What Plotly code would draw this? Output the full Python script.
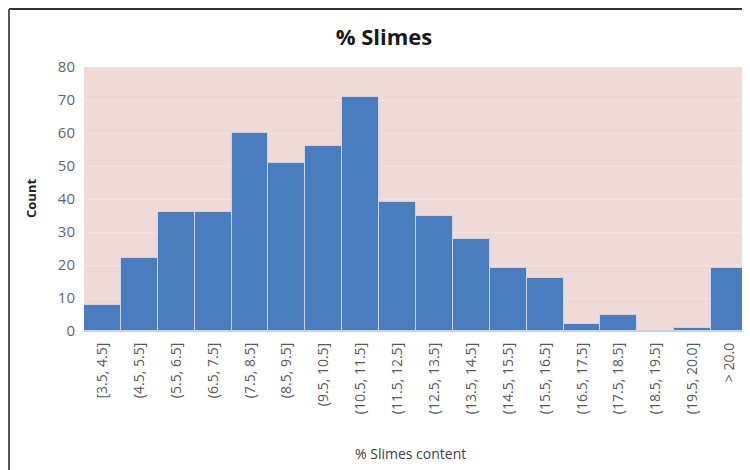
import plotly.graph_objects as go

# Histogram bins and counts
bins = ['[3.5, 4.5]', '(4.5, 5.5]', '(5.5, 6.5]', '(6.5, 7.5]', '(7.5, 8.5]',
        '(8.5, 9.5]', '(9.5, 10.5]', '(10.5, 11.5]', '(11.5, 12.5]', '(12.5, 13.5]',
        '(13.5, 14.5]', '(14.5, 15.5]', '(15.5, 16.5]', '(16.5, 17.5]', '(17.5, 18.5]',
        '(18.5, 19.5]', '(19.5, 20.0]', '> 20.0']
counts = [8, 22, 36, 36, 60, 51, 56, 71, 39, 35, 28, 19, 16, 2, 5, 0, 1, 19]
y_ticks = [0, 10, 20, 30, 40, 50, 60, 70, 80]

font_family = "Open Sans, Liberation Sans, sans-serif"

# page body has an 8px margin, so the figure is a little smaller than the window
W, H = 742, 462
L, R, T, B = 76, 2, 59, 139
plot_w = W - L - R
plot_h = H - T - B

fig = go.Figure(go.Bar(
    x=bins,
    y=counts,
    marker=dict(color='#4A7CC0', line=dict(color='#C9D6EE', width=1)),
))

fig.update_layout(
    width=W,
    height=H,
    margin=dict(l=L, r=R, t=T, b=B),
    paper_bgcolor='white',
    plot_bgcolor='#EFDAD8',
    bargap=0,
    showlegend=False,
    font=dict(family=font_family, color='#595959', size=12),
    title=dict(
        text='<b>% Slimes</b>',
        x=376 / W, xanchor='center',
        y=1 - 29 / H, yanchor='middle',
        font=dict(size=22, color='#1a1a1a', family=font_family),
    ),
)

fig.update_xaxes(
    type='category',
    tickangle=-90,
    tickfont=dict(size=14, color='#595959'),
    showgrid=False,
    showline=False,
    ticks='',
    ticklabelstandoff=8,
)

fig.update_yaxes(
    range=[0, 80],
    tickvals=y_ticks,
    tickfont=dict(size=15, color='#666666'),
    showgrid=True,
    gridcolor='#F3E4E2',
    gridwidth=1,
    zeroline=True,
    zerolinecolor='#BFD0EA',
    zerolinewidth=2,
    ticks='',
    ticklabelstandoff=8,
)

# axis titles
fig.add_annotation(text='% Slimes content', xref='paper', yref='paper',
                   x=(402 - L) / plot_w, y=-(445 - (T + plot_h)) / plot_h,
                   showarrow=False, xanchor='center', yanchor='middle',
                   font=dict(size=14, color='#404040', family=font_family))
fig.add_annotation(text='<b>Count</b>', xref='paper', yref='paper',
                   x=(23 - L) / plot_w, y=0.5, textangle=-90,
                   showarrow=False, xanchor='center', yanchor='middle',
                   font=dict(size=13, color='#262626', family=font_family))

# outer frame of the chart (top and left edges visible in the reference)
top_y = (T + plot_h - 1) / plot_h
left_x = (1 - L) / plot_w
fig.add_shape(type='line', xref='paper', yref='paper',
              x0=left_x, x1=1.01, y0=top_y, y1=top_y,
              line=dict(color='#333333', width=2))
fig.add_shape(type='line', xref='paper', yref='paper',
              x0=left_x, x1=left_x, y0=top_y, y1=-(B / plot_h),
              line=dict(color='#555555', width=2))

fig.write_html("out.html")
